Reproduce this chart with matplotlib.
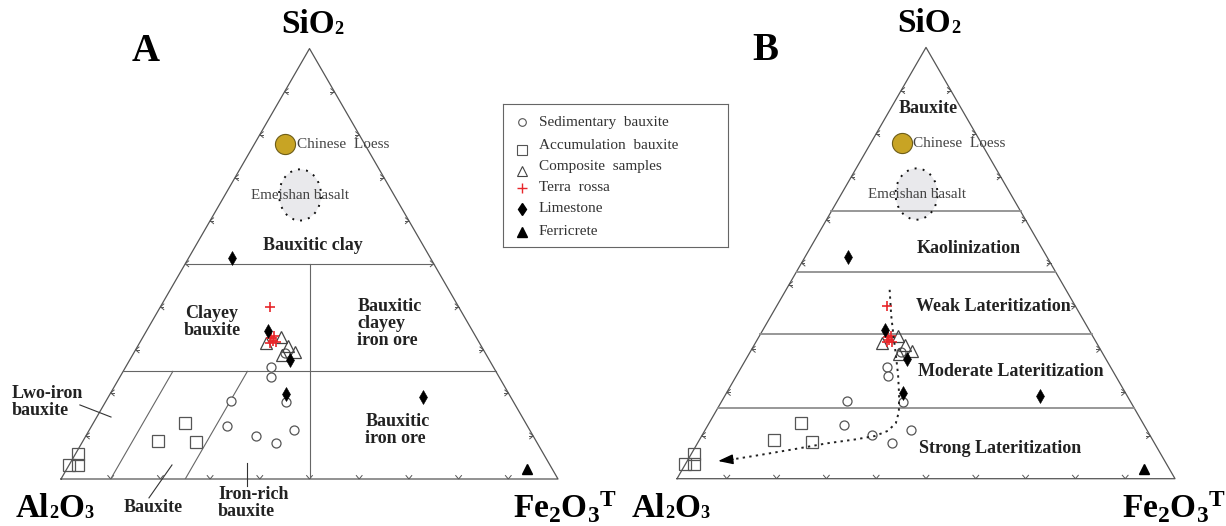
import numpy as np
import matplotlib
matplotlib.use("Agg")
import matplotlib.pyplot as plt
from matplotlib.patches import Ellipse
from matplotlib.transforms import IdentityTransform

plt.rcParams["font.family"] = ["Liberation Serif", "DejaVu Serif"]
plt.rcParams["mathtext.fontset"] = "custom"
plt.rcParams["mathtext.rm"] = "Liberation Serif"
plt.rcParams["mathtext.bf"] = "Liberation Serif:bold"
plt.rcParams["mathtext.it"] = "Liberation Serif:italic"

# ---- compositions (wt%, SiO2 / Al2O3 / Fe2O3T) ----
sed_si = [29.3, 26.0, 23.7, 17.8, 18.1, 12.4, 10.1, 8.3, 11.4]
sed_al = [40.3, 44.8, 45.8, 45.8, 56.8, 60.3, 55.7, 52.6, 47.4]
sed_fe = [30.4, 29.2, 30.5, 36.4, 25.1, 27.3, 34.2, 39.1, 41.2]

acc_si = [12.9, 8.9, 8.6, 5.7, 3.3, 3.3]
acc_al = [68.6, 76.1, 68.6, 93.8, 96.7, 95.0]
acc_fe = [18.5, 15.0, 22.8, 0.5, 0.0, 1.7]

comp_si = [33.1, 31.5, 30.9, 28.8, 29.5]
comp_al = [39.1, 43.1, 38.8, 41.1, 38.1]
comp_fe = [27.8, 25.4, 30.3, 30.1, 32.4]

terra_si = [40.0, 32.8, 33.2, 32.1, 31.6, 31.8]
terra_al = [37.9, 41.3, 40.5, 41.3, 42.1, 40.9]
terra_fe = [22.1, 25.9, 26.3, 26.6, 26.3, 27.3]

lime_si = [51.4, 34.4, 27.7, 19.8, 19.1]
lime_al = [39.9, 41.1, 40.0, 44.8, 17.6]
lime_fe = [8.7, 24.5, 32.3, 35.4, 63.3]

ferri_si = [2.3]
ferri_al = [5.1]
ferri_fe = [92.6]

loess_si, loess_al, loess_fe = [77.8], [16.0], [6.2]
basalt_si, basalt_al, basalt_fe = 66.0, 18.9, 15.1

# weathering trend (panel B)
trend_si = [43.8, 38.0, 33.3, 28.7, 24.0, 19.4, 15.5, 12.9, 11.1, 9.9, 9.1, 8.2, 6.8, 5.5, 4.5]
trend_fe = [20.8, 24.0, 26.8, 29.6, 32.4, 34.9, 36.8, 37.5, 36.8, 34.8, 31.2, 26.0, 19.9, 13.9, 9.0]
trend_al = [100 - s - f for s, f in zip(trend_si, trend_fe)]
trend_tip = (4.1, 89.7, 6.2)

# classification boundaries
a_si_levels = [50, 25]
a_fe_levels = [10, 25]
b_si_levels = [62, 48, 33.5, 16.5]

W, H = 1226, 526
S3 = np.sqrt(3) / 2
fig = plt.figure(figsize=(W / 100, H / 100), dpi=100)
renderer = fig.canvas.get_renderer()

EDGE = "#555555"


def tern(si, al, fe):
    si, al, fe = (np.asarray(v, float) for v in (si, al, fe))
    tot = si + al + fe
    return fe / tot + 0.5 * si / tot, S3 * si / tot


def panel(left_px, base_px, width_px):
    ax = fig.add_axes([left_px / W, (H - base_px) / H, width_px / W, width_px * S3 / H])
    ax.set_xlim(0, 1)
    ax.set_ylim(0, S3)
    ax.axis("off")
    return ax


def chevron(ax, p, d, L=0.010, ang=40, stem=0.0):
    d = np.asarray(d, float)
    for s in (1, -1):
        th = np.deg2rad(ang * s)
        rot = np.array([[np.cos(th), -np.sin(th)], [np.sin(th), np.cos(th)]])
        arm = -(rot @ d) * L
        ax.plot([p[0], p[0] + arm[0]], [p[1], p[1] + arm[1]], color=EDGE, lw=0.7,
                clip_on=False, solid_capstyle="butt")
    if stem:
        ax.plot([p[0], p[0] - d[0] * stem], [p[1], p[1] - d[1] * stem], color=EDGE,
                lw=0.7, clip_on=False)


def frame(ax, left_ticks, right_ticks, base_ticks):
    ax.plot([0, 1, 0.5, 0], [0, 0, S3, 0], color=EDGE, lw=0.9, clip_on=False)
    for t in left_ticks:
        chevron(ax, (t / 200, S3 * t / 100), (-1, 0), stem=0.006)
    for t in right_ticks:
        chevron(ax, (1 - t / 200, S3 * t / 100), (1, 0), stem=0.008)
    for t in base_ticks:
        chevron(ax, (t / 100, 0), (0, -1))


def hline(ax, si, color, lw):
    x0, y0 = tern(si, 100 - si, 0)
    x1, y1 = tern(si, 0, 100 - si)
    ax.plot([x0, x1], [y0, y1], color=color, lw=lw)


def formula(ax, x, y, pieces, fs=24):
    """Bold formula with small on-line subscripts; x = left edge, y = baseline (data)."""
    px, py = ax.transData.transform((x, y))
    for txt, small in pieces:
        size = fs * 0.55 if small else fs
        t = fig.text(px, py - (1 if small else 0), txt, fontsize=size, fontweight="bold",
                     ha="left", va="baseline", transform=IdentityTransform())
        px += t.get_window_extent(renderer).width


def samples(ax):
    x, y = tern(sed_si, sed_al, sed_fe)
    ax.plot(x, y, "o", ms=6.5, mfc="white", mec="#555555", mew=0.9, ls="none", zorder=5)
    x, y = tern(acc_si, acc_al, acc_fe)
    ax.plot(x, y, "s", ms=8, mfc="none", mec="#555555", mew=0.9, ls="none", zorder=5,
            clip_on=False)
    x, y = tern(comp_si, comp_al, comp_fe)
    ax.plot(x, y, "^", ms=8.5, mfc="none", mec="#444444", mew=0.9, ls="none", zorder=6)
    x, y = tern(terra_si, terra_al, terra_fe)
    ax.plot(x, y, "+", ms=7.5, mec="#e8262a", mew=1.2, ls="none", zorder=7)
    x, y = tern(lime_si, lime_al, lime_fe)
    ax.plot(x, y, "d", ms=7, mfc="black", mec="black", mew=0.4, ls="none", zorder=8)
    x, y = tern(ferri_si, ferri_al, ferri_fe)
    ax.plot(x, y, "^", ms=7, mfc="black", mec="black", ls="none", zorder=8)

    # reference compositions
    x, y = tern(loess_si, loess_al, loess_fe)
    ax.plot(x, y, "o", ms=14.5, mfc="#c8a424", mec="#6e5d18", mew=0.8, ls="none", zorder=4)
    ax.text(x[0] + 0.023, y[0], "Chinese  Loess", fontsize=11, color="#444444",
            va="center", ha="left")
    bx, by = tern(basalt_si, basalt_al, basalt_fe)
    ax.add_patch(Ellipse((bx, by), 0.0845, 0.103, facecolor="#e9e9ec", edgecolor="none",
                         zorder=1))
    ax.add_patch(Ellipse((bx, by), 0.0845, 0.103, facecolor="none", edgecolor="#111111",
                         lw=1.4, ls=(0, (1, 3.2)), zorder=3))
    ax.text(bx, by - 0.001, "Emeishan basalt", fontsize=10.8, color="#444444",
            ha="center", va="center", zorder=4)


def corner_labels(ax, letter, letter_x, fe_x):
    formula(ax, 0.4425, 0.897, [("SiO", False), ("2", True)])
    formula(ax, -0.0905, -0.077, [("Al", False), ("2", True), ("O", False), ("3", True)])
    ax.text(fe_x, -0.079, r"$\mathbf{Fe_2O_3}^{\mathbf{T}}$", fontsize=24, ha="center",
            va="baseline", clip_on=False)
    ax.text(letter_x, 0.841, letter, fontsize=28, fontweight="bold", ha="center",
            va="baseline", clip_on=False)


REG = dict(fontsize=13, fontweight="bold", color="#222222", linespacing=1.0)

# ---------------- panel A ----------------
axA = panel(61, 479, 497)
frame(axA, range(10, 100, 10), range(10, 100, 10), range(10, 100, 10))
for s in a_si_levels:
    hline(axA, s, "#666666", 0.8)
x0, y0 = tern(a_si_levels[0], 50 - a_si_levels[0] / 2, 50 - a_si_levels[0] / 2)
x1, y1 = tern(0, 50, 50)
axA.plot([x0, x1], [y0, y1], color="#666666", lw=0.8)
for f in a_fe_levels:
    xa, ya = tern(0, 100 - f, f)
    xb, yb = tern(a_si_levels[1], 100 - f - a_si_levels[1], f)
    axA.plot([xa, xb], [ya, yb], color="#666666", lw=0.8)
samples(axA)
corner_labels(axA, "A", 0.171, 1.014)

axA.text(0.507, 0.469, "Bauxitic clay", ha="center", va="center", **REG)
axA.text(0.304, 0.316, "Clayey\nbauxite", ha="center", va="center", **REG)
axA.text(0.596, 0.312, "Bauxitic\nclayey\niron ore", ha="left", va="center", **REG)
axA.text(0.612, 0.099, "Bauxitic\niron ore", ha="left", va="center", **REG)
axA.text(-0.099, 0.155, "Lwo-iron\nbauxite", ha="left", va="center", clip_on=False, **REG)
axA.text(0.185, -0.058, "Bauxite", ha="center", va="center", clip_on=False, **REG)
axA.text(0.316, -0.048, "Iron-rich\nbauxite", ha="left", va="center", clip_on=False, **REG)
for (xa, ya), (xb, yb) in [((0.038, 0.149), (0.1006, 0.1247)),
                           ((0.177, -0.038), (0.2233, 0.0282)),
                           ((0.374, 0.0322), (0.374, -0.0141))]:
    axA.plot([xa, xb], [ya, yb], color="#333333", lw=0.8, clip_on=False)

# ---------------- panel B ----------------
axB = panel(677, 478.7, 498)
frame(axB, [10, 20, 30, 45, 50, 60, 70, 80, 90], range(10, 100, 10), range(10, 100, 10))
for s in b_si_levels:
    hline(axB, s, "#8f8f8f", 1.3)
samples(axB)
corner_labels(axB, "B", 0.177, 0.998)

tx, ty = tern(trend_si, trend_al, trend_fe)
axB.plot(tx, ty, color="#222222", lw=1.4, ls=(0, (1.2, 2.2)), zorder=9)
hx, hy = tern(*trend_tip)
axB.annotate("", xy=(hx, hy), xytext=(tx[-1], ty[-1]),
             arrowprops=dict(arrowstyle="-|>,head_length=0.9,head_width=0.3",
                             color="black", lw=1.0, shrinkA=0, shrinkB=0), zorder=9)

axB.text(0.504, 0.744, "Bauxite", ha="center", va="center", **REG)
axB.text(0.482, 0.463, "Kaolinization", ha="left", va="center", **REG)
axB.text(0.480, 0.345, "Weak Lateritization", ha="left", va="center", **REG)
axB.text(0.484, 0.216, "Moderate Lateritization", ha="left", va="center", **REG)
axB.text(0.486, 0.060, "Strong Lateritization", ha="left", va="center", **REG)

# ---------------- legend ----------------
axL = fig.add_axes([503 / W, 1 - 247 / H, 225 / W, 143 / H])
axL.set_xlim(0, 1)
axL.set_ylim(0, 1)
axL.set_xticks([])
axL.set_yticks([])
for sp in axL.spines.values():
    sp.set_color("#666666")
    sp.set_linewidth(0.8)

legend_items = [
    ("Sedimentary  bauxite", dict(marker="o", ms=5.5, mfc="white", mec="#555555", mew=0.8)),
    ("Accumulation  bauxite", dict(marker="s", ms=7.5, mfc="white", mec="#555555", mew=0.8)),
    ("Composite  samples", dict(marker="^", ms=7, mfc="white", mec="#444444", mew=0.8)),
    ("Terra  rossa", dict(marker="+", ms=7, mec="#e8262a", mew=1.0)),
    ("Limestone", dict(marker="d", ms=6.5, mfc="black", mec="black")),
    ("Ferricrete", dict(marker="^", ms=7.5, mfc="black", mec="black")),
]
text_y = [0.874, 0.713, 0.566, 0.413, 0.266, 0.105]
mark_y = [0.874, 0.678, 0.531, 0.413, 0.266, 0.105]
for (label, style), ty_, my_ in zip(legend_items, text_y, mark_y):
    axL.plot([0.084], [my_], ls="none", **style)
    axL.text(0.16, ty_, label, fontsize=11, color="#333333", va="center", ha="left")

fig.savefig("out.png", dpi=100, facecolor="white")
